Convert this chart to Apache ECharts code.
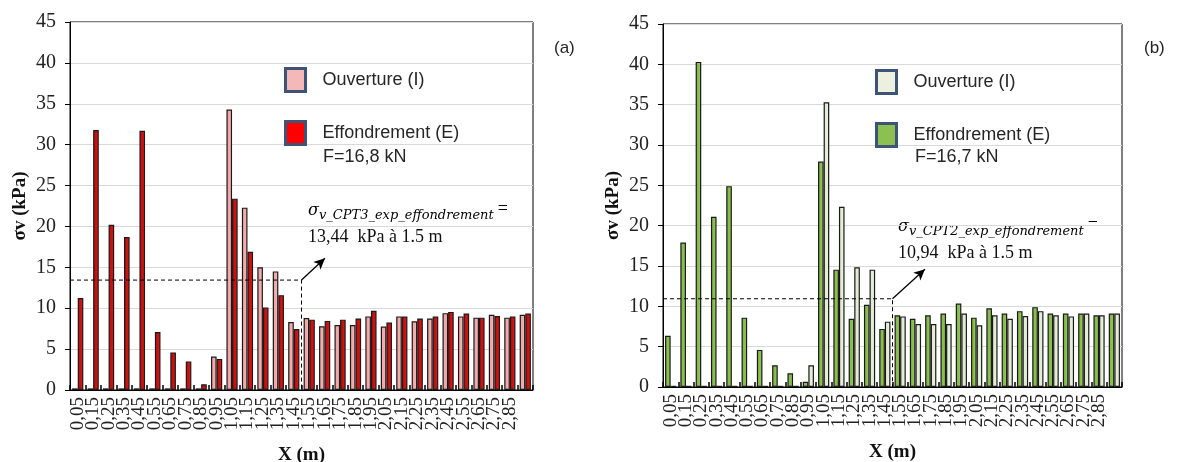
<!DOCTYPE html>
<html>
<head>
<meta charset="utf-8">
<script src="https://cdn.jsdelivr.net/npm/echarts@6/dist/echarts.min.js"></script>
<style>
  html, body { margin: 0; padding: 0; background: #fff; }
  #chart { width: 1179px; height: 462px; }
</style>
</head>
<body>
<div id="chart"></div>
<script>
// Positions along the profile (m), one category per 0.1 m slice
const categories = ['0,05','0,15','0,25','0,35','0,45','0,55','0,65','0,75','0,85','0,95',
                    '1,05','1,15','1,25','1,35','1,45','1,55','1,65','1,75','1,85','1,95',
                    '2,05','2,15','2,25','2,35','2,45','2,55','2,65','2,75','2,85','2,95'];

// (a) CPT3 — vertical stress σv (kPa)
const ouvertureA    = [0.2, 0.2, 0.2, 0.2, 0.2, 0.2, 0.2, 0.2, 0.2, 4.1,
                       34.3, 22.3, 15.0, 14.5, 8.3, 8.8, 7.8, 7.95, 7.95, 9.0,
                       7.75, 9.0, 8.4, 8.75, 9.4, 9.0, 8.85, 9.2, 8.85, 9.2];
const effondrementA = [11.25, 31.8, 20.2, 18.7, 31.7, 7.1, 4.6, 3.5, 0.7, 3.8,
                       23.4, 16.9, 10.1, 11.6, 7.45, 8.6, 8.45, 8.6, 8.75, 9.7,
                       8.25, 9.0, 8.75, 9.0, 9.55, 9.35, 8.85, 9.05, 9.0, 9.35];

// (b) CPT2 — vertical stress σv (kPa)
const effondrementB = [6.35, 17.9, 40.3, 21.1, 24.9, 8.6, 4.6, 2.7, 1.7, 0.65,
                       27.95, 14.55, 8.45, 10.2, 7.2, 8.9, 8.45, 8.9, 9.1, 10.35,
                       8.6, 9.75, 9.1, 9.4, 9.9, 9.1, 9.1, 9.1, 8.9, 9.1];
const ouvertureB    = [0.15, 0.15, 0.15, 0.15, 0.15, 0.15, 0.15, 0.15, 0.15, 2.7,
                       35.3, 22.35, 14.85, 14.55, 8.1, 8.75, 7.8, 7.8, 7.8, 9.1,
                       7.65, 8.9, 8.45, 8.8, 9.4, 8.9, 8.75, 9.1, 8.9, 9.1];

// Experimental stress at collapse, read at 1.5 m
const refDepth = 1.5;
const refStressA = 13.44;
const refStressB = 10.94;

const yTickStep = 5;
const yMax = 45;

const SERIF = '"Liberation Serif", "Times New Roman", serif';
const SANS = '"Liberation Sans", Arial, sans-serif';

const chart = echarts.init(document.getElementById('chart'), null, { renderer: 'canvas' });

function grad(c1, c2) {
  return new echarts.graphic.LinearGradient(0, 0, 1, 0, [
    { offset: 0, color: c1 }, { offset: 1, color: c2 }
  ]);
}

const fills = {
  ouvA: grad('#EE9C9C', '#F6B9B9'),
  effA: grad('#B00D0D', '#E81414'),
  effB: grad('#7BB043', '#98CB5C'),
  ouvB: grad('#DCE6CB', '#EDF3E3')
};

function bars(name, data, xi, yi, fill) {
  return {
    type: 'bar', name: name, data: data,
    xAxisIndex: xi, yAxisIndex: yi,
    barWidth: 5.6, barGap: '0%',
    itemStyle: { color: fill, borderColor: '#1a1a1a', borderWidth: 1.2 },
    emphasis: { disabled: true },
    silent: true
  };
}

function refLine(xi, yi, stress, tip) {
  return {
    type: 'line', xAxisIndex: xi, yAxisIndex: yi,
    data: [[0, stress], [refDepth, stress], [refDepth, 0]],
    symbol: 'none', silent: true, z: 5,
    lineStyle: { color: '#000', width: 1, type: [4, 3] },
    markLine: {
      silent: true, symbol: ['none', 'arrow'], symbolSize: [8, 11],
      label: { show: false },
      lineStyle: { color: '#000', width: 1.3, type: 'solid' },
      data: [[{ coord: [refDepth, stress] }, { coord: tip }]]
    }
  };
}

function catAxis(gi) {
  return {
    type: 'category', gridIndex: gi, data: categories,
    axisLine: { lineStyle: { color: '#000', width: 1 } },
    axisTick: { show: true, inside: true, length: 5, interval: 0, lineStyle: { color: '#000', width: 1.5 } },
    axisLabel: {
      rotate: 90, margin: 7, fontFamily: SERIF, fontSize: 19, lineHeight: 13, color: '#222',
      interval: 0, showMinLabel: true, showMaxLabel: true,
      formatter: function (v, idx) { return idx < categories.length - 1 ? v : ''; }
    },
    name: 'X (m)', nameLocation: 'middle', nameGap: 56,
    nameTextStyle: { fontFamily: SERIF, fontSize: 19, fontWeight: 'bold', color: '#111' }
  };
}

function valAxisY(gi) {
  return {
    type: 'value', gridIndex: gi, min: 0, max: yMax, interval: yTickStep,
    axisLine: { show: true, lineStyle: { color: '#000', width: 1 } },
    axisTick: { show: true, length: 5, lineStyle: { color: '#000' } },
    axisLabel: { margin: 14, fontFamily: SERIF, fontSize: 20, color: '#222' },
    splitLine: { lineStyle: { color: '#D9D9D9', width: 1 } },
    name: 'σv (kPa)', nameLocation: 'middle', nameRotate: 90, nameGap: 40,
    nameTextStyle: { fontFamily: SERIF, fontSize: 19, fontWeight: 'bold', color: '#111' }
  };
}

function depthAxis(gi) {
  return { type: 'value', gridIndex: gi, min: 0, max: 3, show: false };
}

const legendBorder = '#3D5479';

function legendAt(left, top, items) {
  return {
    left: left, top: top, orient: 'vertical', icon: 'rect', padding: 0,
    itemWidth: 20, itemHeight: 23, itemGap: 27,
    selectedMode: false,
    itemStyle: { borderColor: legendBorder, borderWidth: 3 },
    textStyle: { fontFamily: SANS, fontSize: 18, color: '#262626', padding: [0, 0, 0, 12] },
    data: items
  };
}

const annotRich = {
  s:   { fontFamily: '"DejaVu Serif", serif', fontStyle: 'italic', fontSize: 16, color: '#111' },
  sub: { fontFamily: '"DejaVu Serif", serif', fontStyle: 'italic', fontSize: 13, color: '#111', padding: [9, 0, 0, 0] },
  eq:  { fontFamily: SERIF, fontSize: 18, color: '#111', padding: [0, 0, 4, 4] }
};

function annot(x, y, cpt, valueText) {
  return [
    { type: 'text', left: x, top: y, silent: true,
      style: { text: '{s|σ}{sub|v_' + cpt + '_exp_effondrement}{eq|=}', rich: annotRich } },
    { type: 'text', left: x, top: y + 28, silent: true,
      style: { text: valueText, fontFamily: SERIF, fontSize: 18, fill: '#111' } }
  ];
}

const option = {
  animation: false,
  backgroundColor: '#fff',
  grid: [
    { left: 70, top: 22, width: 463, height: 368, show: true, borderColor: '#000', borderWidth: 1,
      backgroundColor: 'transparent', containLabel: false, outerBoundsMode: 'none' },
    { left: 663, top: 24, width: 459, height: 363, show: true, borderColor: '#000', borderWidth: 1,
      backgroundColor: 'transparent', containLabel: false, outerBoundsMode: 'none' }
  ],
  xAxis: [catAxis(0), catAxis(1), depthAxis(0), depthAxis(1)],
  yAxis: [valAxisY(0), valAxisY(1)],
  legend: [
    legendAt(284, 67, [
      { name: 'Ouverture (I)', itemStyle: { color: '#F4B8B8' } },
      { name: 'Effondrement (E)', itemStyle: { color: '#FF0000' } }
    ]),
    legendAt(875, 69, [
      { name: 'Ouverture (I)', itemStyle: { color: '#EBF1DE' } },
      { name: 'Effondrement (E)', itemStyle: { color: '#8CC152' } }
    ])
  ],
  series: [
    bars('Ouverture (I)', ouvertureA, 0, 0, fills.ouvA),
    bars('Effondrement (E)', effondrementA, 0, 0, fills.effA),
    bars('Effondrement (E)', effondrementB, 1, 1, fills.effB),
    bars('Ouverture (I)', ouvertureB, 1, 1, fills.ouvB),
    refLine(2, 0, refStressA, [1.652, 16.1]),
    refLine(3, 1, refStressB, [1.712, 14.6])
  ],
  graphic: [
    { type: 'text', left: 323, top: 148, silent: true,
      style: { text: 'F=16,8 kN', fontFamily: SANS, fontSize: 18, fill: '#262626' } },
    { type: 'text', left: 915, top: 148, silent: true,
      style: { text: 'F=16,7 kN', fontFamily: SANS, fontSize: 18, fill: '#262626' } },
    { type: 'text', left: 554, top: 40, silent: true,
      style: { text: '(a)', fontFamily: SANS, fontSize: 17, fill: '#262626' } },
    { type: 'text', left: 1144, top: 40, silent: true,
      style: { text: '(b)', fontFamily: SANS, fontSize: 17, fill: '#262626' } }
  ].concat(annot(308, 200, 'CPT3', '13,44  kPa à 1.5 m'))
   .concat(annot(898, 216, 'CPT2', '10,94  kPa à 1.5 m'))
};

chart.setOption(option);
</script>
</body>
</html>
